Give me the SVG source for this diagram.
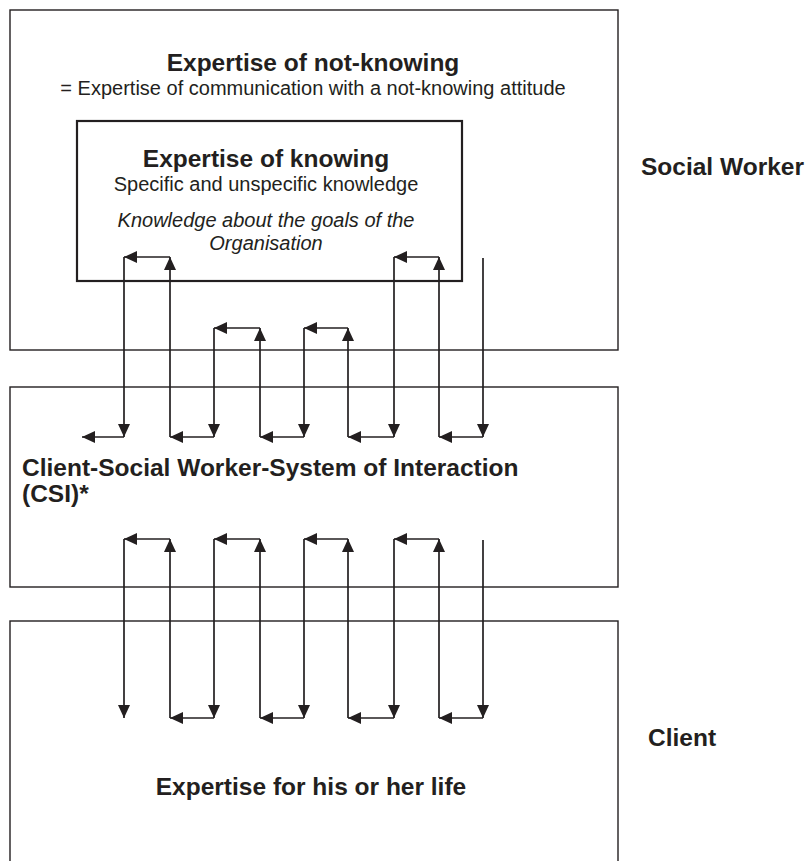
<svg xmlns="http://www.w3.org/2000/svg" width="806" height="861" viewBox="0 0 806 861">
<style>
.box{fill:none;stroke:#231f20;stroke-width:1.4}
.inner{fill:none;stroke:#231f20;stroke-width:2.2}
.c{fill:none;stroke:#231f20;stroke-width:1.7;marker-end:url(#ah)}
text{font-family:"Liberation Sans",Arial,sans-serif;fill:#231f20}
.b{font-weight:bold;font-size:24.5px}
.r{font-size:20px}
.i{font-size:20px;font-style:italic}
.m{text-anchor:middle}
</style>
<defs>
<marker id="ah" markerWidth="13" markerHeight="12" refX="13" refY="6" orient="auto" markerUnits="userSpaceOnUse"><path d="M0,0 L13,6 L0,12 z" fill="#231f20"/></marker>
</defs>
<rect width="806" height="861" fill="#fff"/>
<g id="social-worker">
<rect class="box" x="10" y="10" width="608" height="340"/>
<text class="b m" x="313" y="71">Expertise of not-knowing</text>
<text class="r m" x="313" y="95">= Expertise of communication with a not-knowing attitude</text>
<text class="b" x="641" y="175">Social Worker</text>
</g>
<g id="knowing">
<rect class="inner" x="77" y="121" width="385" height="160"/>
<text class="b m" x="266" y="167">Expertise of knowing</text>
<text class="r m" x="266" y="191">Specific and unspecific knowledge</text>
<text class="i m" x="266" y="227">Knowledge about the goals of the</text>
<text class="i m" x="266" y="250">Organisation</text>
</g>
<g id="csi">
<rect class="box" x="10" y="387" width="608" height="200"/>
<text class="b" x="22" y="476">Client-Social Worker-System of Interaction</text>
<text class="b" x="22" y="502">(CSI)*</text>
</g>
<g id="client">
<rect class="box" x="10" y="621" width="608" height="260"/>
<text class="b m" x="311" y="795">Expertise for his or her life</text>
<text class="b" x="648" y="746">Client</text>
</g>
<g id="connectors">
<line class="c" x1="483" y1="258" x2="483" y2="437"/>
<line class="c" x1="483" y1="437" x2="439" y2="437"/>
<line class="c" x1="439" y1="437" x2="439" y2="257"/>
<line class="c" x1="439" y1="257" x2="394" y2="257"/>
<line class="c" x1="394" y1="257" x2="394" y2="437"/>
<line class="c" x1="394" y1="437" x2="348" y2="437"/>
<line class="c" x1="348" y1="437" x2="348" y2="328"/>
<line class="c" x1="348" y1="328" x2="304" y2="328"/>
<line class="c" x1="304" y1="328" x2="304" y2="437"/>
<line class="c" x1="304" y1="437" x2="260" y2="437"/>
<line class="c" x1="260" y1="437" x2="260" y2="328"/>
<line class="c" x1="260" y1="328" x2="214" y2="328"/>
<line class="c" x1="214" y1="328" x2="214" y2="437"/>
<line class="c" x1="214" y1="437" x2="170" y2="437"/>
<line class="c" x1="170" y1="437" x2="170" y2="257"/>
<line class="c" x1="170" y1="257" x2="124" y2="257"/>
<line class="c" x1="124" y1="257" x2="124" y2="437"/>
<line class="c" x1="124" y1="437" x2="82" y2="437"/>

<line class="c" x1="483" y1="540" x2="483" y2="718"/>
<line class="c" x1="483" y1="718" x2="439" y2="718"/>
<line class="c" x1="439" y1="718" x2="439" y2="539"/>
<line class="c" x1="439" y1="539" x2="394" y2="539"/>
<line class="c" x1="394" y1="539" x2="394" y2="718"/>
<line class="c" x1="394" y1="718" x2="348" y2="718"/>
<line class="c" x1="348" y1="718" x2="348" y2="539"/>
<line class="c" x1="348" y1="539" x2="304" y2="539"/>
<line class="c" x1="304" y1="539" x2="304" y2="718"/>
<line class="c" x1="304" y1="718" x2="260" y2="718"/>
<line class="c" x1="260" y1="718" x2="260" y2="539"/>
<line class="c" x1="260" y1="539" x2="214" y2="539"/>
<line class="c" x1="214" y1="539" x2="214" y2="718"/>
<line class="c" x1="214" y1="718" x2="170" y2="718"/>
<line class="c" x1="170" y1="718" x2="170" y2="539"/>
<line class="c" x1="170" y1="539" x2="124" y2="539"/>
<line class="c" x1="124" y1="539" x2="124" y2="718"/>
</g>
</svg>
